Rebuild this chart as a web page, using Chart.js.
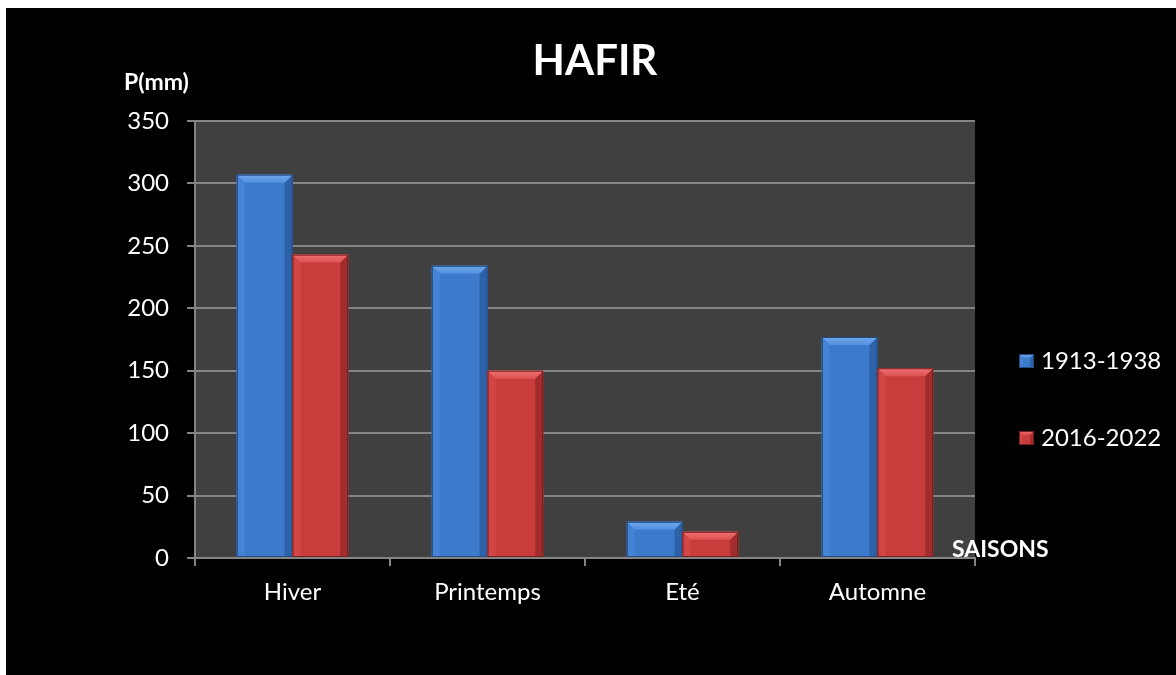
<!DOCTYPE html>
<html>
<head>
<meta charset="utf-8">
<title>HAFIR - précipitations saisonnières</title>
<script src="https://cdn.jsdelivr.net/npm/chart.js@4/dist/chart.umd.min.js"></script>
<style>
  html, body { margin: 0; background: #fff; }
  #cadre { position: absolute; left: 6px; top: 8px; width: 1170px; height: 667px; background: #000; }
</style>
</head>
<body>
<div id="cadre"><canvas id="graphe" width="1170" height="667"></canvas></div>
<script>
// Données : précipitations saisonnières (mm)
const saisons = ['Hiver', 'Printemps', 'Eté', 'Automne'];
const periodes = ['1913-1938', '2016-2022'];
const pluie1913 = [307, 234, 29, 177];
const pluie2016 = [243, 150, 21, 152];
const graduations = [0, 50, 100, 150, 200, 250, 300, 350];

const POLICE = 'Lato, "Open Sans", sans-serif';
const GRIS = '#858585';

// Teintes des barres biseautées
const teintes = [
    { face: '#3c7acb', clair: '#6fa8ee', milieu: '#5290de', cote: '#4584d4', ombre: '#2d62a8', bord: '#21497e' },
    { face: '#c93c3c', clair: '#ef7070', milieu: '#dc5252', cote: '#d24646', ombre: '#a02c2c', bord: '#721f1f' }
];

const poly = (ctx, pts, couleur) => {
    ctx.beginPath();
    ctx.moveTo(pts[0][0], pts[0][1]);
    pts.slice(1).forEach(p => ctx.lineTo(p[0], p[1]));
    ctx.closePath();
    ctx.fillStyle = couleur;
    ctx.fill();
};

// Dessine un rectangle avec effet biseau (style Excel)
const biseau = (ctx, g, h, d, b, t, taille) => {
    const e = Math.min(taille, (d - g) / 4, (b - h) / 2);
    ctx.fillStyle = t.face;
    ctx.fillRect(g, h, d - g, b - h);
    poly(ctx, [[g, h], [g + e, h + e], [g + e, b], [g, b]], t.cote);
    poly(ctx, [[d, h], [d - e, h + e], [d - e, b], [d, b]], t.ombre);
    const haut = ctx.createLinearGradient(0, h, 0, h + e);
    haut.addColorStop(0, t.clair);
    haut.addColorStop(1, t.milieu);
    poly(ctx, [[g, h], [d, h], [d - e, h + e], [g + e, h + e]], haut);
    ctx.strokeStyle = t.bord;
    ctx.lineWidth = 1;
    ctx.strokeRect(g + 0.5, h + 0.5, d - g - 1, b - h - 1);
};

const fondZone = {
    id: 'fondZone',
    beforeDraw(chart) {
        const { ctx, chartArea: a } = chart;
        ctx.save();
        ctx.fillStyle = '#404040';
        ctx.fillRect(a.left, a.top, a.right - a.left, a.bottom - a.top);
        ctx.restore();
    }
};

const barresBiseau = {
    id: 'barresBiseau',
    afterDatasetsDraw(chart) {
        const ctx = chart.ctx;
        ctx.save();
        chart.data.datasets.forEach((ds, i) => {
            chart.getDatasetMeta(i).data.forEach(bar => {
                const { x, y, base, width } = bar.getProps(['x', 'y', 'base', 'width'], true);
                biseau(ctx, x - width / 2, y, x + width / 2, base, teintes[i], 8);
            });
        });
        ctx.restore();
    }
};

const textes = {
    id: 'textes',
    afterDraw(chart) {
        const ctx = chart.ctx;
        ctx.save();
        ctx.fillStyle = '#fff';
        ctx.textBaseline = 'alphabetic';

        ctx.font = 'bold 42px ' + POLICE;
        ctx.textAlign = 'center';
        ctx.fillText('HAFIR', 589, 67);

        ctx.font = 'bold 23px ' + POLICE;
        ctx.textAlign = 'left';
        ctx.fillText('P(mm)', 118, 82);
        ctx.fillText('SAISONS', 946, 549);

        // légende
        const lignes = [353, 430];
        periodes.forEach((p, i) => {
            const yc = lignes[i];
            biseau(ctx, 1013, yc - 7, 1028, yc + 7, teintes[i], 4);
            ctx.fillStyle = '#fff';
            ctx.font = '24px ' + POLICE;
            ctx.textBaseline = 'middle';
            ctx.fillText(p, 1035, yc);
        });
        ctx.restore();
    }
};

new Chart(document.getElementById('graphe'), {
    type: 'bar',
    data: {
        labels: saisons,
        datasets: [
            { label: periodes[0], data: pluie1913, backgroundColor: teintes[0].face },
            { label: periodes[1], data: pluie2016, backgroundColor: teintes[1].face }
        ]
    },
    options: {
        responsive: false,
        devicePixelRatio: 1,
        animation: false,
        categoryPercentage: 2 / 3.5,
        barPercentage: 1,
        layout: { padding: { left: 100, top: 113, right: 201, bottom: 57 } },
        plugins: {
            legend: { display: false },
            tooltip: { enabled: false }
        },
        scales: {
            x: {
                offset: true,
                grid: { offset: true, drawOnChartArea: false, drawTicks: true, tickLength: 8, color: GRIS, lineWidth: 2 },
                border: { display: true, color: GRIS, width: 2 },
                ticks: { color: '#fff', font: { family: POLICE, size: 24 }, padding: 12 },
                afterFit: s => { s.height = 60; }
            },
            y: {
                min: 0,
                max: 350,
                afterBuildTicks: s => { s.ticks = graduations.map(v => ({ value: v })); },
                grid: { color: GRIS, lineWidth: 2, tickLength: 8 },
                border: { display: true, color: GRIS, width: 2 },
                ticks: { color: '#fff', font: { family: POLICE, size: 24 }, padding: 18 },
                afterFit: s => { s.width = 89; }
            }
        }
    },
    plugins: [fondZone, barresBiseau, textes]
});
</script>
</body>
</html>
